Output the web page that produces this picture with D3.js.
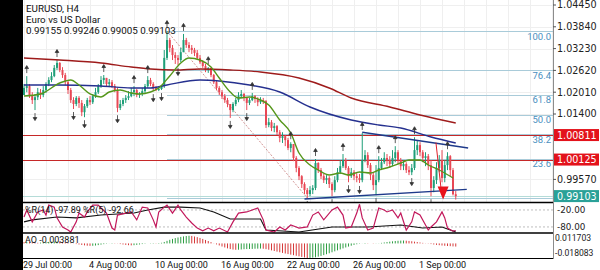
<!DOCTYPE html>
<html>
<head>
<meta charset="utf-8">
<script src="https://cdn.jsdelivr.net/npm/d3@7"></script>
<style>
  html, body { margin: 0; padding: 0; background: #fff; }
  svg { display: block; font-family: Roboto, "DejaVu Sans", sans-serif; }
</style>
</head>
<body>
<svg id="chart" width="600" height="270"></svg>
<script>
// ---- data (EURUSD H4) ----
const firstOpen = 1.0193;
const closes = [
  1.0213,1.0218,1.0193,1.0179,1.0187,1.0201,1.0193,1.0207,1.0224,1.0235,
  1.0246,1.0269,1.0283,1.0263,1.0249,1.0229,1.0207,1.0179,1.0168,1.0185,
  1.0171,1.0145,1.0162,1.0179,1.0173,1.0190,1.0201,1.0218,1.0235,1.0241,
  1.0224,1.0229,1.0218,1.0207,1.0157,1.0168,1.0179,1.0185,1.0190,1.0201,
  1.0207,1.0193,1.0196,1.0204,1.0218,1.0235,1.0224,1.0213,1.0207,1.0210,
  1.0218,1.0297,1.0347,1.0325,1.0305,1.0297,1.0291,1.0313,1.0347,1.0333,
  1.0325,1.0319,1.0311,1.0297,1.0285,1.0274,1.0263,1.0269,1.0249,1.0229,
  1.0213,1.0201,1.0190,1.0179,1.0168,1.0151,1.0168,1.0179,1.0190,1.0196,
  1.0185,1.0171,1.0179,1.0190,1.0182,1.0173,1.0179,1.0176,1.0109,1.0117,
  1.0101,1.0106,1.0089,1.0073,1.0078,1.0067,1.0045,1.0056,1.0017,0.9989,
  0.9966,0.9944,0.9927,0.9916,0.9927,0.9933,1.0003,0.9983,0.9966,0.9955,
  0.9961,0.9944,0.9927,0.9955,0.9977,0.9994,1.0011,0.9989,0.9966,0.9977,
  0.9966,0.9961,0.9955,1.0011,1.0025,0.9997,0.9969,0.9941,0.9955,0.9989,
  1.0005,1.0017,1.0011,1.0000,1.0017,1.0033,1.0011,0.9994,1.0000,0.9983,
  0.9977,0.9989,1.0039,1.0053,1.0033,1.0017,1.0022,0.9997,0.9933,0.9955,
  0.9989,1.0011,0.9961,0.9997,1.0022,0.9983,0.99155,0.99103
];
const highs = [
  1.0224,1.0246,1.0224,1.0201,1.0196,1.0213,1.0210,1.0218,1.0229,1.0243,
  1.0257,1.0277,1.0291,1.0285,1.0271,1.0255,1.0235,1.0213,1.0187,1.0190,
  1.0190,1.0179,1.0168,1.0185,1.0190,1.0196,1.0213,1.0224,1.0246,1.0249,
  1.0241,1.0238,1.0235,1.0224,1.0213,1.0179,1.0185,1.0193,1.0204,1.0213,
  1.0218,1.0210,1.0201,1.0213,1.0224,1.0246,1.0241,1.0229,1.0218,1.0215,
  1.0221,1.0319,1.0372,1.0353,1.0333,1.0313,1.0305,1.0325,1.0364,1.0353,
  1.0341,1.0333,1.0325,1.0319,1.0305,1.0291,1.0280,1.0271,1.0269,1.0252,
  1.0235,1.0218,1.0207,1.0196,1.0185,1.0168,1.0173,1.0185,1.0201,1.0207,
  1.0199,1.0187,1.0185,1.0199,1.0193,1.0187,1.0187,1.0185,1.0179,1.0129,
  1.0123,1.0115,1.0109,1.0095,1.0089,1.0081,1.0073,1.0061,1.0056,1.0022,
  0.9994,0.9969,0.9949,0.9933,0.9938,0.9941,1.0014,1.0005,0.9989,0.9972,
  0.9969,0.9966,0.9949,0.9966,0.9989,1.0011,1.0028,1.0017,0.9994,0.9989,
  0.9983,0.9977,0.9972,1.0087,1.0039,1.0033,1.0003,0.9977,0.9997,1.0022,
  1.0017,1.0033,1.0028,1.0022,1.0039,1.0050,1.0039,1.0017,1.0011,1.0005,
  0.9994,1.0000,1.0075,1.0067,1.0061,1.0039,1.0033,1.0028,1.0011,0.9966,
  1.0005,1.0025,1.0039,1.0011,1.0033,1.0025,0.9989,0.99246
];
const lows = [
  1.0193,1.0201,1.0185,1.0168,1.0151,1.0179,1.0182,1.0187,1.0199,1.0218,
  1.0229,1.0243,1.0263,1.0257,1.0241,1.0221,1.0196,1.0171,1.0154,1.0162,
  1.0157,1.0134,1.0131,1.0157,1.0165,1.0168,1.0185,1.0196,1.0213,1.0224,
  1.0218,1.0215,1.0213,1.0201,1.0145,1.0151,1.0162,1.0171,1.0179,1.0187,
  1.0190,1.0187,1.0185,1.0190,1.0199,1.0213,1.0218,1.0204,1.0204,1.0204,
  1.0207,1.0213,1.0291,1.0313,1.0291,1.0280,1.0277,1.0285,1.0313,1.0325,
  1.0313,1.0308,1.0302,1.0291,1.0280,1.0269,1.0257,1.0255,1.0243,1.0224,
  1.0207,1.0193,1.0182,1.0171,1.0159,1.0129,1.0145,1.0162,1.0173,1.0185,
  1.0176,1.0151,1.0165,1.0176,1.0171,1.0162,1.0168,1.0168,1.0101,1.0103,
  1.0092,1.0089,1.0081,1.0061,1.0059,1.0050,1.0039,1.0033,1.0008,0.9977,
  0.9955,0.9933,0.9916,0.9905,0.9910,0.9916,0.9927,0.9975,0.9958,0.9947,
  0.9944,0.9933,0.9910,0.9921,0.9949,0.9972,0.9989,0.9983,0.9949,0.9961,
  0.9955,0.9949,0.9947,0.9949,1.0005,0.9989,0.9955,0.9927,0.9913,0.9949,
  0.9983,1.0000,0.9994,0.9989,0.9994,1.0005,1.0000,0.9983,0.9983,0.9975,
  0.9969,0.9969,0.9983,1.0025,1.0022,1.0005,0.9994,0.9983,0.9910,0.9921,
  0.9944,0.9977,0.9949,0.9949,0.9983,0.9966,0.9912,0.99005
];

const upFractals = [1, 12, 29, 40, 45, 52, 58, 67, 83, 97, 106, 116, 123, 129, 135, 142, 154];
const downFractals = [4, 18, 22, 34, 47, 50, 56, 75, 81, 103, 112, 118, 122, 128, 141, 148];

// moving averages, [bar, price]
const fastMA = [[0,1.01904],[6,1.01960],[13,1.02268],[17,1.02352],[20,1.02212],[24,1.01960],[28,1.01876],[31,1.02016],[35,1.02072],[39,1.01988],[42,1.01960],[46,1.02016],[49,1.02128],[53,1.02463],[57,1.02827],[60,1.02967],[64,1.02911],[68,1.02715],[71,1.02407],[75,1.02016],[78,1.01848],[82,1.01876],[86,1.01792],[89,1.01652],[93,1.01232],[97,1.00869],[100,1.00309],[104,0.99973],[107,0.99833],[111,0.99693],[115,0.99749],[118,0.99693],[122,0.99777],[126,0.99749],[129,0.99833],[133,0.99917],[137,1.00029],[140,1.00113],[144,1.00113],[147,0.99973],[151,0.99833],[156,0.99609]];
const midMA = [[0,1.02212],[12,1.02212],[28,1.02184],[39,1.02128],[46,1.02128],[52,1.02212],[64,1.02352],[71,1.02324],[82,1.02212],[93,1.02016],[104,1.01596],[119,1.01232],[129,1.01092],[137,1.01008],[148,1.00757],[157,1.00589]];
const slowMA = [[0,1.02967],[13,1.02911],[28,1.02827],[39,1.02715],[46,1.02659],[55,1.02631],[64,1.02659],[75,1.02631],[86,1.02575],[100,1.02407],[111,1.02128],[119,1.01848],[133,1.01596],[144,1.01372],[157,1.01148]];

const trendUpper = [[123, 1.0089], [161.5, 1.0045]];
const trendLower = [[102, 0.9902], [161, 0.9929]];

const fibHigh = [52, 1.0372];
const fibLow = [103, 0.9905];
const fibRatios = [0, 0.236, 0.382, 0.5, 0.618, 0.764, 1];

const levelLines = [1.00811, 1.00125];
const bidPrice = 0.99103;
const priceTicks = [1.04450, 1.03840, 1.03230, 1.02620, 1.02010, 1.01400, 0.99570];

const sellSignal = { bar: 152.4, top: 0.9937, tip: 0.9901 };
const sellLine = [[149.8, 1.0060], [151.6, 0.9935]];

const timeTicks = [0, 24, 48, 72, 96, 120, 144];
const timeLabels = ["29 Jul 00:00", "4 Aug 00:00", "10 Aug 00:00", "16 Aug 00:00", "22 Aug 00:00", "26 Aug 00:00", "1 Sep 00:00"];

// Williams %R, [bar, value]
const wprFast = [[0,-45],[1,-20],[3,-62],[5,-27],[7,-20],[8,-38],[9,-3],[11,-10],[12,-48],[14,-80],[16,-91],[17,-98],[19,-62],[20,-31],[22,-45],[23,-27],[25,-3],[27,-3],[28,-13],[30,-31],[32,-84],[33,-91],[34,-38],[37,-31],[39,-27],[41,-55],[43,-10],[45,-13],[47,-55],[48,-80],[49,-27],[51,-10],[52,-3],[54,-31],[56,-3],[57,-20],[59,-45],[61,-66],[63,-84],[65,-94],[67,-84],[69,-94],[71,-84],[74,-98],[76,-62],[78,-31],[81,-27],[85,-13],[87,-55],[88,-91],[91,-98],[93,-80],[95,-91],[97,-73],[99,-80],[100,-84],[103,-80],[105,-38],[107,-27],[109,-55],[112,-20],[114,-10],[116,-38],[117,-84],[119,-80],[121,-31],[122,0],[123,-48],[125,-91],[127,-84],[129,-13],[131,-20],[132,-27],[134,-20],[136,-48],[137,-31],[139,-91],[141,-62],[142,-27],[144,-38],[147,-91],[148,-80],[150,-62],[152,-27],[153,-48],[154,-84],[156,-95],[157,-92.66]];
const wprSlow = [[0,-62],[3,-55],[12,-45],[19,-48],[28,-38],[40,-31],[45,-20],[51,-10],[57,-10],[64,-13],[69,-27],[75,-52],[81,-52],[86,-52],[88,-91],[100,-98],[112,-80],[125,-80],[137,-73],[145,-84],[152,-80],[157,-97.89]];
const wprLevels = [-20, -80];

// Awesome Oscillator, one value per bar
const aoValues = [
  0.0015,0.0018,0.0016,0.0012,0.0009,0.0008,0.0010,0.0013,0.0016,0.0019,0.0021,
  0.0023,0.0024,0.0022,0.0018,0.0013,0.0008,0.0003,-0.0002,
  -0.0008,-0.0013,-0.0019,-0.0024,-0.0028,-0.0030,-0.0029,-0.0026,-0.0021,-0.0015,-0.0009,
  -0.0004,0.0001,0.0004,0.0003,-0.0002,
  -0.0008,-0.0013,-0.0018,-0.0022,-0.0024,-0.0022,-0.0018,-0.0013,
  -0.0008,-0.0004,0.0000,0.0003,0.0004,0.0003,0.0005,0.0008,
  0.0018,0.0032,0.0045,0.0056,0.0066,0.0074,0.0081,0.0087,0.0092,0.0095,
  0.0093,0.0086,0.0078,0.0068,0.0056,0.0043,0.0030,0.0016,
  0.0002,-0.0012,-0.0025,-0.0038,-0.0050,-0.0061,-0.0070,-0.0076,
  -0.0079,-0.0078,-0.0075,-0.0072,-0.0070,-0.0069,-0.0068,-0.0066,-0.0065,-0.0064,-0.0066,
  -0.0071,-0.0078,-0.0086,-0.0094,-0.0102,-0.0110,-0.0118,-0.0125,-0.0132,-0.0139,-0.0146,-0.0153,-0.0160,
  -0.0167,-0.0174,-0.0181,-0.0179,-0.0176,-0.0172,
  -0.0164,-0.0155,-0.0145,-0.0134,-0.0122,-0.0110,-0.0098,-0.0086,-0.0074,-0.0062,-0.0050,-0.0039,-0.0028,-0.0018,
  -0.0010,-0.0004,0.0001,0.0005,0.0003,0.0000,-0.0003,-0.0002,0.0002,0.0007,
  0.0012,0.0017,0.0022,0.0026,0.0030,0.0033,0.0035,0.0036,0.0034,0.0031,
  0.0027,0.0022,0.0017,0.0012,0.0007,0.0002,
  -0.0003,-0.0008,-0.0013,-0.0018,-0.0022,-0.0026,-0.0029,-0.0032,-0.0034,-0.0037,-0.003881
];
const aoRange = [-0.018083, 0.011703];

// ---- layout ----
const svg = d3.select("#chart");
const plotLeft = 23, plotRight = 553;
const mainBottom = 202;
const bullColor = "#1f9e78", bearColor = "#e84855";

const x = d3.scaleLinear().domain([0, closes.length - 1]).range([24, 455.75]);
const y = d3.scaleLinear().domain([0.99570, 1.04450]).range([179.4, 5]);
const yWpr = d3.scaleLinear().domain([-100, 0]).range([232.6, 204.3]);
const yAo = d3.scaleLinear().domain(aoRange).range([258, 234]);

const candles = closes.map((c, i) => {
  const o = i ? closes[i - 1] : firstOpen;
  return { i, o, c, h: Math.max(highs[i], o, c), l: Math.min(lows[i], o, c) };
});

svg.append("rect").attr("width", 600).attr("height", 270).attr("fill", "#fff");
svg.append("rect").attr("width", plotLeft).attr("height", 270).attr("fill", "#000");

const defs = svg.append("defs");
defs.append("clipPath").attr("id", "main-clip")
  .append("rect").attr("x", plotLeft).attr("y", 0)
  .attr("width", plotRight - plotLeft).attr("height", mainBottom);

const main = svg.append("g").attr("clip-path", "url(#main-clip)");

// faint grid
const gridBars = d3.range(0, 200, 8);
main.append("g").attr("stroke", "#efefef").attr("stroke-width", 1)
  .selectAll("line").data(gridBars).join("line")
  .attr("x1", (d) => Math.round(x(d)) + 0.5).attr("x2", (d) => Math.round(x(d)) + 0.5)
  .attr("y1", 0).attr("y2", mainBottom);
main.append("g").attr("stroke", "#efefef").attr("stroke-width", 1)
  .selectAll("line").data(priceTicks).join("line")
  .attr("x1", plotLeft).attr("x2", plotRight)
  .attr("y1", (d) => Math.round(y(d)) + 0.5).attr("y2", (d) => Math.round(y(d)) + 0.5);

// fibonacci retracement
const fibRange = fibHigh[1] - fibLow[1];
const fibLevels = fibRatios.map((r) => ({ r, price: fibLow[1] + fibRange * r }));
main.append("g").attr("stroke", "#a9cbd9").attr("stroke-width", 1)
  .selectAll("line").data(fibLevels).join("line")
  .attr("x1", x(fibHigh[0])).attr("x2", plotRight)
  .attr("y1", (d) => Math.round(y(d.price)) + 0.5).attr("y2", (d) => Math.round(y(d.price)) + 0.5);
main.append("g").attr("fill", "#4a8fc0").attr("font-size", 9.5).attr("text-anchor", "end")
  .selectAll("text").data(fibLevels.filter((d) => y(d.price) + 8.5 < mainBottom)).join("text")
  .attr("x", plotRight - 2).attr("y", (d) => y(d.price) + 8.5)
  .text((d) => (d.r * 100).toFixed(1));
main.append("line")
  .attr("x1", x(fibHigh[0])).attr("y1", y(fibHigh[1]))
  .attr("x2", x(fibLow[0])).attr("y2", y(fibLow[1]))
  .attr("stroke", "#c77a7a").attr("stroke-width", 0.8).attr("stroke-dasharray", "2,1.5");

// horizontal levels and bid line
main.append("g").attr("stroke", "#c62828").attr("stroke-width", 1)
  .selectAll("line").data(levelLines).join("line")
  .attr("x1", plotLeft).attr("x2", plotRight)
  .attr("y1", (d) => Math.round(y(d)) + 0.5).attr("y2", (d) => Math.round(y(d)) + 0.5);
main.append("line")
  .attr("x1", plotLeft).attr("x2", plotRight)
  .attr("y1", Math.round(y(bidPrice)) + 0.5).attr("y2", Math.round(y(bidPrice)) + 0.5)
  .attr("stroke", "#b5dcd8").attr("stroke-width", 1);

// candles
const candleG = main.append("g");
candleG.selectAll("line").data(candles).join("line")
  .attr("x1", (d) => x(d.i)).attr("x2", (d) => x(d.i))
  .attr("y1", (d) => y(d.h)).attr("y2", (d) => y(d.l))
  .attr("stroke", (d) => (d.c >= d.o ? bullColor : bearColor)).attr("stroke-width", 1);
candleG.selectAll("rect").data(candles).join("rect")
  .attr("x", (d) => x(d.i) - 1)
  .attr("width", 2)
  .attr("y", (d) => y(Math.max(d.o, d.c)))
  .attr("height", (d) => Math.max(1, Math.abs(y(d.o) - y(d.c))))
  .attr("fill", (d) => (d.c >= d.o ? bullColor : bearColor));

// moving averages
const maLine = d3.line().x((d) => x(d[0])).y((d) => y(d[1])).curve(d3.curveMonotoneX);
[[slowMA, "#9e1b1b"], [midMA, "#25308f"], [fastMA, "#55961a"]].forEach(([data, color]) => {
  main.append("path").datum(data).attr("d", maLine)
    .attr("fill", "none").attr("stroke", color).attr("stroke-width", 1.4);
});

// trend lines
const straight = d3.line().x((d) => x(d[0])).y((d) => y(d[1]));
[trendUpper, trendLower].forEach((t) => {
  main.append("path").datum(t).attr("d", straight)
    .attr("fill", "none").attr("stroke", "#1e3a8a").attr("stroke-width", 1.4);
});

// fractals
const fractalG = main.append("g").attr("stroke", "#333").attr("fill", "#333").attr("stroke-width", 0.8);
upFractals.forEach((i) => {
  const px = x(i), py = y(candles[i].h) - 3;
  fractalG.append("line").attr("x1", px).attr("x2", px).attr("y1", py).attr("y2", py - 5);
  fractalG.append("path").attr("d", `M${px - 1.8},${py - 4.5}L${px + 1.8},${py - 4.5}L${px},${py - 7.5}Z`);
});
downFractals.forEach((i) => {
  const px = x(i), py = y(candles[i].l) + 3;
  fractalG.append("line").attr("x1", px).attr("x2", px).attr("y1", py).attr("y2", py + 5);
  fractalG.append("path").attr("d", `M${px - 1.8},${py + 4.5}L${px + 1.8},${py + 4.5}L${px},${py + 7.5}Z`);
});

// sell signal
main.append("path").datum(sellLine).attr("d", straight)
  .attr("stroke", "#e0202a").attr("stroke-width", 1).attr("fill", "none");
const sx = x(sellSignal.bar);
main.append("path")
  .attr("d", `M${sx - 5.5},${y(sellSignal.top)}L${sx + 5.5},${y(sellSignal.top)}L${sx},${y(sellSignal.tip)}Z`)
  .attr("fill", "#e8141c");

// header text
const header = svg.append("g").attr("fill", "#111").attr("font-size", 9.8);
header.append("text").attr("x", 26).attr("y", 12).text("EURUSD, H4");
header.append("text").attr("x", 26).attr("y", 23).text("Euro vs US Dollar");
const last = candles[candles.length - 1];
header.append("text").attr("x", 26).attr("y", 34)
  .text([last.o, last.h, last.l, last.c].map((v) => v.toFixed(5)).join(" "));

// ---- Williams %R panel ----
const wprG = svg.append("g");
wprG.append("g").attr("stroke", "#bdbdbd").attr("stroke-dasharray", "2,2")
  .selectAll("line").data(wprLevels).join("line")
  .attr("x1", plotLeft).attr("x2", plotRight)
  .attr("y1", (d) => yWpr(d)).attr("y2", (d) => yWpr(d));
const wprLine = d3.line().x((d) => x(d[0])).y((d) => yWpr(d[1]));
wprG.append("path").datum(wprSlow).attr("d", wprLine)
  .attr("fill", "none").attr("stroke", "#111").attr("stroke-width", 1.1);
wprG.append("path").datum(wprFast).attr("d", wprLine)
  .attr("fill", "none").attr("stroke", "#c2185b").attr("stroke-width", 1.2);
wprG.append("text").attr("x", 25).attr("y", 213).attr("font-size", 9).attr("fill", "#111")
  .text(`%R(14) ${wprSlow[wprSlow.length - 1][1].toFixed(2)} %R(5) ${wprFast[wprFast.length - 1][1].toFixed(2)}`);

// ---- AO panel ----
const aoG = svg.append("g");
aoG.selectAll("line").data(aoValues).join("line")
  .attr("x1", (d, i) => x(i)).attr("x2", (d, i) => x(i))
  .attr("y1", yAo(0)).attr("y2", (d) => yAo(d))
  .attr("stroke", (d, i) => (i && d > aoValues[i - 1] ? "#2f9e44" : "#d63a3a"))
  .attr("stroke-width", 1);
aoG.append("text").attr("x", 25).attr("y", 243).attr("font-size", 9).attr("fill", "#111")
  .text(`AO ${aoValues[aoValues.length - 1].toFixed(6)}`);

// panel borders
const borders = svg.append("g").attr("stroke", "#000");
borders.append("line").attr("x1", plotLeft).attr("x2", plotRight).attr("y1", 202.5).attr("y2", 202.5).attr("stroke-width", 1.6);
borders.append("line").attr("x1", plotLeft).attr("x2", plotRight).attr("y1", 233).attr("y2", 233).attr("stroke-width", 1.4);
borders.append("line").attr("x1", plotLeft).attr("x2", plotRight).attr("y1", 258.5).attr("y2", 258.5).attr("stroke-width", 1);
svg.append("line").attr("x1", plotRight + 0.5).attr("x2", plotRight + 0.5).attr("y1", 0).attr("y2", 259)
  .attr("stroke", "#8c8c8c").attr("stroke-width", 1);

// ---- right axis labels ----
const axisFont = "'DejaVu Sans', sans-serif";
const rightAxis = svg.append("g").attr("font-family", axisFont).attr("font-size", 9.6).attr("fill", "#222");
priceTicks.forEach((p) => {
  rightAxis.append("line").attr("x1", plotRight).attr("x2", plotRight + 3)
    .attr("y1", y(p)).attr("y2", y(p)).attr("stroke", "#555");
  rightAxis.append("text").attr("x", plotRight + 4).attr("y", y(p)).attr("dy", "0.36em").text(p.toFixed(5));
});
function priceBox(value, fill) {
  const cy = y(value);
  rightAxis.append("rect").attr("x", plotRight + 1).attr("y", cy - 6).attr("width", 45).attr("height", 12).attr("fill", fill);
  rightAxis.append("text").attr("x", plotRight + 4).attr("y", cy).attr("dy", "0.36em").attr("fill", "#fff").text(value.toFixed(5));
}
levelLines.forEach((v) => priceBox(v, "#e3121b"));
priceBox(bidPrice, "#2aa198");

wprLevels.forEach((v) => {
  rightAxis.append("text").attr("x", plotRight + 4).attr("y", yWpr(v)).attr("dy", "0.36em").attr("font-size", 8.8).text(v.toFixed(2));
});
const aoLabels = svg.append("g").attr("font-family", "Roboto, sans-serif").attr("font-size", 8.6).attr("fill", "#222");
aoLabels.append("text").attr("x", plotRight + 2).attr("y", yAo(aoRange[1]) + 4).attr("dy", "0.36em").text(aoRange[1].toFixed(6));
aoLabels.append("text").attr("x", plotRight + 2).attr("y", yAo(aoRange[0]) - 5).attr("dy", "0.36em").text(aoRange[0].toFixed(6));

// ---- time axis ----
svg.append("g").attr("font-size", 9).attr("fill", "#111")
  .selectAll("text").data(timeTicks).join("text")
  .attr("x", (d) => x(d) - 1).attr("y", 267.5)
  .text((d, i) => timeLabels[i]);
</script>
</body>
</html>
